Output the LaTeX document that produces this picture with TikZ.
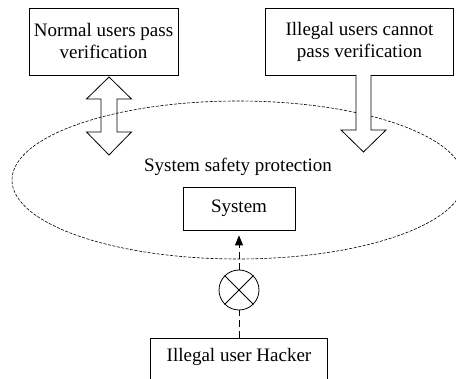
\documentclass[tikz,border=0pt]{standalone}
\usepackage{fontspec}
\setmainfont{Liberation Serif}
\usetikzlibrary{arrows.meta,shapes.geometric}

\tikzset{
  box/.style={draw, line width=0.8pt, align=center, inner sep=0pt,
    font=\fontsize{19}{22}\selectfont},
  blockarrow/.style={draw, line width=0.8pt, line join=miter},
  zoneline/.style={draw, line width=0.6pt, dash pattern=on 3pt off 1.5pt},
  attack/.style={line width=0.8pt, dash pattern=on 7pt off 4pt},
}

\begin{document}
\begin{tikzpicture}[x=1pt,y=-1pt]
  \clip (0,0) rectangle (456,379);

  % protection zone
  \node[zoneline, ellipse, inner sep=0pt, minimum width=452, minimum height=158] (zone) at (238,180) {};
  \node[font=\fontsize{19}{22}\selectfont] (zonetext) at (238,167) {System safety protection};

  % users
  \node[box, minimum width=149, minimum height=67] (normal) at (103.5,41.5) {Normal users pass\\verification};
  \node[box, minimum width=188, minimum height=67] (illegal) at (359.5,41.5) {Illegal users cannot\\pass verification};

  \node[box, minimum width=112, minimum height=43] (system) at (239,208.5) {System};
  \node[box, minimum width=177, text height=23pt, text depth=30pt, anchor=north] (hacker) at (239,338) {Illegal user Hacker};

  \node[draw, circle, line width=0.8pt, minimum size=40, inner sep=0pt] (cross) at (239,290) {};
  \draw[line width=0.8pt] (cross.north west) -- (cross.south east);
  \draw[line width=0.8pt] (cross.north east) -- (cross.south west);

  % block arrows
  \coordinate (dtop) at (109,77);
  \draw[blockarrow] (dtop) -- ++(22.5,22) -- ++(-14.5,0) -- ++(0,33) -- ++(14.5,0) -- ++(-22.5,23)
    -- ++(-22.5,-23) -- ++(14.5,0) -- ++(0,-33) -- ++(-14.5,0) -- cycle;

  \coordinate (utop) at (363.5,75);
  \draw[blockarrow, fill=white] ([xshift=-7.5pt]utop) -- ++(0,55) -- ++(-15,0) -- ++(22.5,22)
    -- ++(22.5,-22) -- ++(-15,0) -- ++(0,-55);

  % hacker path
  \draw[attack] (hacker.north) -- (cross.south);
  \draw[attack, -{Triangle[width=8pt,length=10pt]}, shorten >=5pt] (cross.north) -- (system.south);
\end{tikzpicture}
\end{document}
